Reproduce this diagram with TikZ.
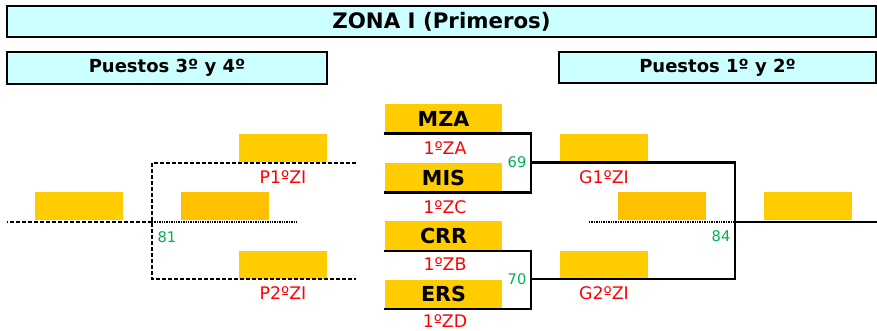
\documentclass[tikz,border=0pt]{standalone}
\usepackage{fontspec}
\setmainfont{DejaVu Sans}
\usepackage{xcolor}
\definecolor{headcyan}{HTML}{CCFFFF}
\definecolor{slotyellow}{HTML}{FFCC00}
\definecolor{slotorange}{HTML}{FFC000}
\definecolor{gamegreen}{HTML}{00B050}
\tikzset{
	header node/.style={draw,line width=1.7pt,fill=headcyan,inner sep=0pt,font=\bfseries\fontsize{13.5}{16}\selectfont},
	team node/.style={fill=slotyellow,inner sep=0pt,minimum width=87.75pt,minimum height=21pt,font=\bfseries\fontsize{15.5}{18}\selectfont},
	slot node/.style={fill=slotyellow,inner sep=0pt,minimum width=66pt,minimum height=21pt},
	dark slot/.style={slot node,fill=slotorange},
	seed node/.style={text=red,inner sep=0pt,font=\fontsize{13}{15}\selectfont},
	game node/.style={text=gamegreen,inner sep=0pt,font=\fontsize{11}{13}\selectfont},
	dashed line/.style={line width=1.6pt,dash pattern=on 3pt off 1.5pt},
	dotted line/.style={line width=1.2pt,dash pattern=on 1pt off 0.8pt}
}

\begin{document}
\begin{tikzpicture}[x=0.75pt,y=-0.75pt,line width=1.8pt]
	\useasboundingbox (0,0) rectangle (877,331);
	\node [header node,minimum width=651.75pt,minimum height=23.25pt,font=\bfseries\fontsize{16}{18}\selectfont] (zona) at (441.5,21.5) {ZONA I (Primeros)};
	\node [header node,minimum width=240pt,minimum height=24pt] (p34) at (167,68) {Puestos 3º y 4º};
	\node [header node,minimum width=237.75pt,minimum height=23.25pt] (p12) at (717.5,67.5) {Puestos 1º y 2º};

	\node [team node] (mza) at (443.5,118.5) {MZA};
	\node [team node] (mis) at (443.5,177.5) {MIS};
	\node [team node] (crr) at (443.5,235.5) {CRR};
	\node [team node] (ers) at (443.5,293.5) {ERS};
	\node [seed node] (sza) at (445,148) {1ºZA};
	\node [seed node] (szc) at (445,207) {1ºZC};
	\node [seed node] (szb) at (445,264) {1ºZB};
	\node [seed node] (szd) at (445,321) {1ºZD};

	\node [slot node] (g1) at (604,148) {};
	\node [slot node] (g2) at (604,264.5) {};
	\node [dark slot] (w84) at (662,206.5) {};
	\node [slot node] (f84) at (808,206.5) {};
	\node [slot node] (p1) at (283,148) {};
	\node [slot node] (p2) at (283,264.5) {};
	\node [dark slot] (w81) at (225,206.5) {};
	\node [slot node] (f81) at (79,206.5) {};
	\node [seed node] (sg1) at (604,177) {G1ºZI};
	\node [seed node] (sg2) at (604,293) {G2ºZI};
	\node [seed node] (sp1) at (283,177) {P1ºZI};
	\node [seed node] (sp2) at (283,293) {P2ºZI};

	\node [game node] (n69) at (517,162) {69};
	\node [game node] (n70) at (517,279) {70};
	\node [game node] (n81) at (167,237) {81};
	\node [game node] (n84) at (721,236) {84};

	\coordinate (j69) at (531,162.5);
	\coordinate (j70) at (531,279);
	\coordinate (j84) at (735,222);
	\coordinate (rdot) at (589,222);
	\coordinate (rend) at (877,222);
	\coordinate (j81) at (152,222);
	\coordinate (ltop) at (356,163);
	\coordinate (lbot) at (356,279);
	\coordinate (ldot) at (297,222);
	\coordinate (lend) at (7,222);

	\draw (mza.south west) -| (j69) |- (mis.south west);
	\draw (crr.south west) -| (j70) |- (ers.south west);
	\draw (j69) -| (j84) |- (j70);
	\draw (j84) -- (rend);
	\draw [dotted line] (rdot) -- (j84);
	\draw [dashed line] (ltop) -| (j81) |- (lbot);
	\draw [dashed line] (j81) -- (lend);
	\draw [dotted line] (j81) -- (ldot);
\end{tikzpicture}
\end{document}
